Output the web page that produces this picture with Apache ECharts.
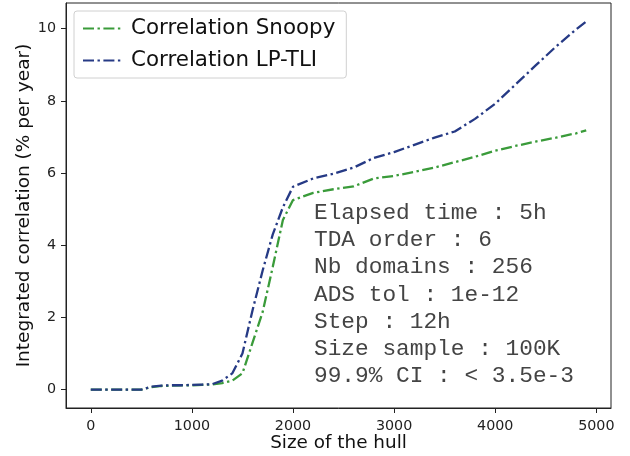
<!DOCTYPE html>
<html>
<head>
<meta charset="utf-8">
<script src="https://cdn.jsdelivr.net/npm/echarts@6/dist/echarts.min.js"></script>
<style>html,body{margin:0;padding:0;background:#fff}#c{width:630px;height:456px}</style>
</head>
<body>
<div id="c"></div>
<script>
const hullSize = [0, 100, 200, 300, 400, 500, 600, 700, 800, 900, 1000, 1100, 1200, 1300, 1400, 1500, 1600, 1700, 1800, 1900, 2000, 2200, 2400, 2600, 2800, 3000, 3200, 3400, 3600, 3800, 4000, 4200, 4400, 4600, 4800, 4900];
const snoopy = [0, 0, 0, 0, 0, 0, 0.07, 0.1, 0.11, 0.12, 0.12, 0.13, 0.14, 0.18, 0.25, 0.45, 1.3, 2.15, 3.4, 4.7, 5.25, 5.45, 5.55, 5.63, 5.85, 5.92, 6.03, 6.15, 6.3, 6.45, 6.62, 6.75, 6.87, 6.98, 7.1, 7.18];
const lptli = [0, 0, 0, 0, 0, 0, 0.08, 0.11, 0.12, 0.12, 0.13, 0.14, 0.15, 0.25, 0.45, 1.0, 2.2, 3.3, 4.3, 5.05, 5.62, 5.85, 5.98, 6.15, 6.42, 6.58, 6.78, 6.98, 7.15, 7.5, 7.92, 8.45, 8.98, 9.5, 9.98, 10.2];
const xTicks = [0, 1000, 2000, 3000, 4000, 5000];
const yTicks = [0, 2, 4, 6, 8, 10];
const seriesNames = ['Correlation Snoopy', 'Correlation LP-TLI'];
const infoLines = ['Elapsed time : 5h', 'TDA order : 6', 'Nb domains : 256', 'ADS tol : 1e-12', 'Step : 12h', 'Size sample : 100K', '99.9% CI : < 3.5e-3'];

const green = '#3a9b3a', navy = '#263a85';
const dash = [11, 3.5, 2.4, 3.5];
const chart = echarts.init(document.getElementById('c'), null, {renderer: 'canvas'});
const pair = (ys) => hullSize.map((x, i) => [x, ys[i]]);
const tickFont = {fontFamily: 'DejaVu Sans', fontSize: 14.3, color: '#222', formatter: (v) => String(v)};
chart.setOption({
  animation: false,
  backgroundColor: '#fff',
  grid: {left: 66, right: 19, top: 3, bottom: 48, containLabel: false, outerBoundsMode: 'none',
         show: true, borderColor: '#222', borderWidth: 1, backgroundColor: 'transparent'},
  legend: {
    orient: 'vertical', left: 74, top: 11,
    data: seriesNames,
    itemWidth: 38, itemHeight: 14, itemGap: 11,
    padding: [7, 11, 7, 8],
    itemStyle: {opacity: 0},
    borderColor: '#d0d0d0', borderWidth: 1, borderRadius: 3, backgroundColor: '#fff',
    textStyle: {fontFamily: 'DejaVu Sans', fontSize: 21.4, color: '#111', padding: [0, 0, 0, 5]}
  },
  xAxis: {
    type: 'value', min: -245, max: 5145,
    name: 'Size of the hull', nameLocation: 'middle', nameGap: 26, nameMoveOverlap: false,
    nameTextStyle: {fontFamily: 'DejaVu Sans', fontSize: 18.4, color: '#111'},
    axisLine: {show: true, onZero: false, lineStyle: {color: '#222', width: 1}},
    axisTick: {show: true, customValues: xTicks, length: 5, lineStyle: {color: '#222'}},
    axisLabel: {customValues: xTicks, margin: 11, ...tickFont},
    splitLine: {show: false}
  },
  yAxis: {
    type: 'value', min: -0.51, max: 10.71,
    name: 'Integrated correlation (% per year)', nameLocation: 'middle', nameGap: 32, nameMoveOverlap: false,
    nameTextStyle: {fontFamily: 'DejaVu Sans', fontSize: 18.5, color: '#111'},
    axisLine: {show: true, onZero: false, lineStyle: {color: '#222', width: 1}},
    axisTick: {show: true, customValues: yTicks, length: 5, lineStyle: {color: '#222'}},
    axisLabel: {customValues: yTicks, margin: 10, ...tickFont},
    splitLine: {show: false}
  },
  graphic: [{
    type: 'text', left: 314, top: 199,
    style: {
      text: infoLines.join('\n'),
      font: '22.8px "Liberation Mono"', lineHeight: 27.3, fill: '#444'
    }
  }],
  series: [
    {name: seriesNames[0], type: 'line', data: pair(snoopy), symbol: 'none', color: green,
     lineStyle: {color: green, width: 2.3, type: dash}},
    {name: seriesNames[1], type: 'line', data: pair(lptli), symbol: 'none', color: navy,
     lineStyle: {color: navy, width: 2.3, type: dash}}
  ]
});
</script>
</body>
</html>
